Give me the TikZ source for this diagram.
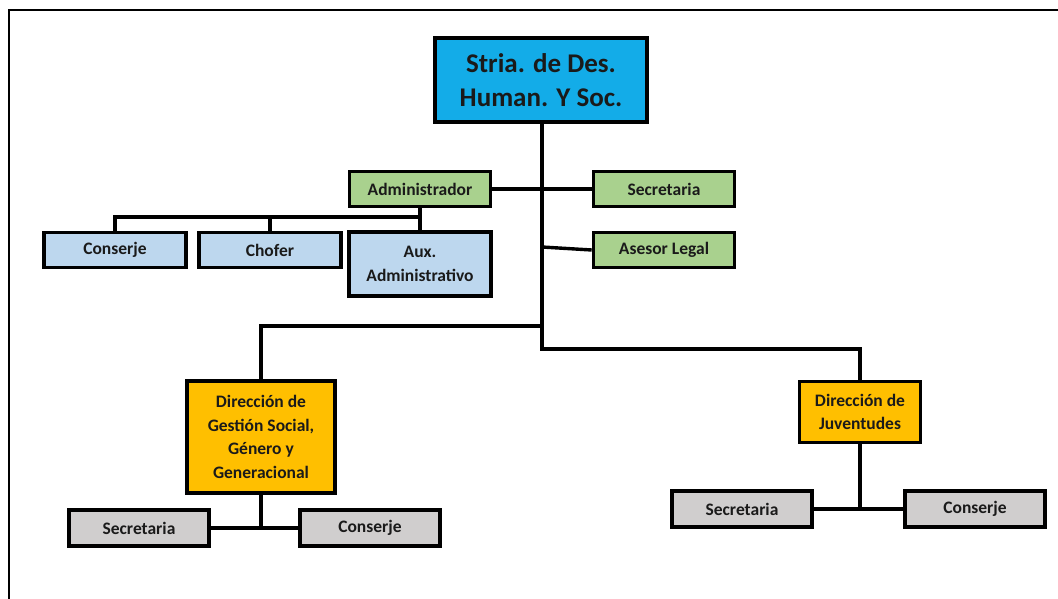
\documentclass[tikz,border=0pt]{standalone}
\usepackage{fontspec}
\setmainfont{Carlito}
\usepackage{xcolor}
\definecolor{orgblue}{HTML}{13ACE8}
\definecolor{orggreen}{HTML}{A9D18E}
\definecolor{orglight}{HTML}{BDD7EE}
\definecolor{orggold}{HTML}{FFBF00}
\definecolor{orggray}{HTML}{D0CECE}
\definecolor{orgink}{HTML}{1A1A1A}

\begin{document}
\begin{tikzpicture}[
  x=1pt,
  y=-1pt,
  every node/.style={font=\bfseries\fontsize{17.5}{23.5}\selectfont, text=orgink},
  unit/.style={draw=black, line width=3.6pt, align=center, inner sep=0pt},
  head/.style={unit, fill=orgblue, minimum width=212, minimum height=84,
    font=\bfseries\fontsize{27}{34}\selectfont},
  staff/.style={unit, fill=orggreen, minimum width=141, minimum height=35},
  aux/.style={unit, fill=orglight, minimum width=142, minimum height=35},
  dept/.style={unit, fill=orggold},
  base/.style={unit, fill=orggray, minimum width=140, minimum height=36},
  link/.style={black, line width=3.4pt}
]
  % ---- page and frame (only top and left edge show) --------------------
  \useasboundingbox (0,0) rectangle (1058,599);
  \draw[line width=1.8pt] (9,599) -- (9,10) -- (1058,10);

  % ---- head -------------------------------------------------------------
  \node[head] (stria) at (541,80) {Stria. de Des.\\Human. Y Soc.};

  % ---- staff of the head ------------------------------------------------
  \node[staff] (admin) at (420,189) {Administrador};
  \node[staff] (secA) at (664,189) {Secretaria};
  \node[staff] (legal) at (664,250) {Asesor Legal};

  \node[aux] (consA) at (115,250) {Conserje};
  \node[aux] (chofer) at (270,250) {Chofer};
  \node[aux, minimum height=64] (auxadm) at (420,264)
    {Aux.\\Administrativo};

  % ---- directions -------------------------------------------------------
  \node[dept, minimum width=148, minimum height=112] (dirGS) at (261,437)
    {Dirección de\\Gestión Social,\\Género y\\Generacional};
  \node[dept, minimum width=121, minimum height=61] (dirJ) at (860,412)
    {Dirección de\\Juventudes};

  \node[base] (secB) at (139,528) {Secretaria};
  \node[base] (consB) at (370,528) {Conserje};
  \node[base] (secC) at (742,509) {Secretaria};
  \node[base] (consC) at (975,509) {Conserje};

  % ---- junctions ----------------------------------------------------------
  \coordinate (spine) at (542,349);
  \coordinate (jLegal) at (542,247);
  \coordinate (jGS) at (542,326);
  \coordinate (busA) at (420,217);
  \coordinate (busGS) at (261,528);
  \coordinate (busJ) at (860,509);

  % ---- connectors -------------------------------------------------------
  \draw[link] (stria.south -| spine) -- (spine) -| (dirJ.north);
  \draw[link] (admin.east) -- (secA.west);
  \draw[link] (jLegal) -- (legal.west);
  \draw[link] (jGS) -| (dirGS.north);

  \draw[link] (admin.south) -- (auxadm.north);
  \draw[link] (busA) -| (consA.north);
  \draw[link] (busA) -| (chofer.north);

  \draw[link] (dirGS.south) -- (busGS);
  \draw[link] (secB.east) -- (consB.west);
  \draw[link] (dirJ.south) -- (busJ);
  \draw[link] (secC.east) -- (consC.west);

\end{tikzpicture}
\end{document}
